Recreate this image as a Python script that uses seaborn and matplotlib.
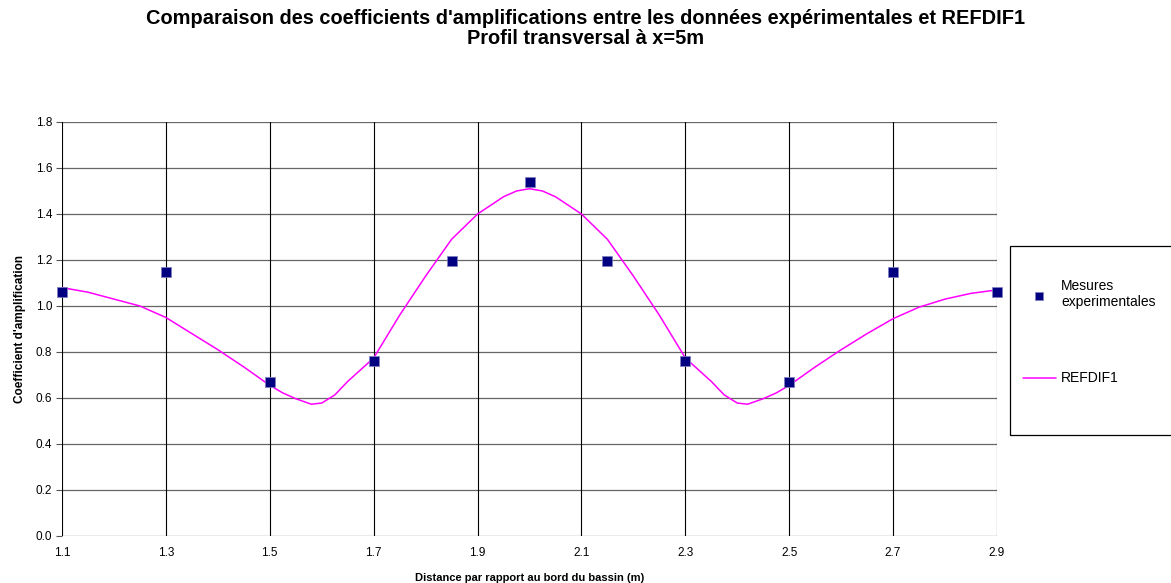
import matplotlib
matplotlib.use("Agg")
import matplotlib.pyplot as plt
from matplotlib.patches import Rectangle
import seaborn as sns
import pandas as pd

# Measured points (squares)
mes_x = [1.1, 1.3, 1.5, 1.7, 1.85, 2.0, 2.15, 2.3, 2.5, 2.7, 2.9]
mes_y = [1.06, 1.147, 0.67, 0.76, 1.196, 1.538, 1.196, 0.76, 0.67, 1.147, 1.06]

# REFDIF1 curve
ref_x = [1.10, 1.15, 1.20, 1.25, 1.30, 1.35, 1.40, 1.45, 1.50, 1.525, 1.55, 1.58, 1.60,
         1.625, 1.65, 1.70, 1.75, 1.80, 1.85, 1.90, 1.95, 1.975, 2.00, 2.025, 2.05, 2.10,
         2.15, 2.20, 2.25, 2.30, 2.35, 2.375, 2.40, 2.42, 2.45, 2.475, 2.50, 2.55, 2.60,
         2.65, 2.70, 2.75, 2.80, 2.85, 2.90]
ref_y = [1.08, 1.06, 1.03, 1.00, 0.95, 0.88, 0.81, 0.735, 0.655, 0.622, 0.597, 0.573, 0.578,
         0.613, 0.672, 0.774, 0.96, 1.13, 1.29, 1.40, 1.475, 1.50, 1.51, 1.50, 1.475, 1.40,
         1.29, 1.13, 0.96, 0.774, 0.672, 0.613, 0.578, 0.573, 0.597, 0.622, 0.655, 0.735, 0.81,
         0.88, 0.945, 0.995, 1.03, 1.055, 1.07]

x_ticks = [1.1, 1.3, 1.5, 1.7, 1.9, 2.1, 2.3, 2.5, 2.7, 2.9]
y_ticks = [0.0, 0.2, 0.4, 0.6, 0.8, 1.0, 1.2, 1.4, 1.6, 1.8]

title_lines = ["Comparaison des coefficients d'amplifications entre les données expérimentales et REFDIF1",
               "Profil transversal à x=5m"]
xlabel = "Distance par rapport au bord du bassin (m)"
ylabel = "Coefficient d'amplification"

sns.set_theme(style="white")
plt.rcParams['font.family'] = ['Liberation Sans', 'DejaVu Sans']
plt.rcParams.update({'text.color': 'black', 'axes.labelcolor': 'black',
                     'xtick.color': 'black', 'ytick.color': 'black'})

fig = plt.figure(figsize=(11.71, 5.83), dpi=100)
ax = fig.add_axes([62/1171, 47/583, (997-62)/1171, (536-122)/583])

df_ref = pd.DataFrame({"x": ref_x, "y": ref_y})
df_mes = pd.DataFrame({"x": mes_x, "y": mes_y})

sns.lineplot(data=df_ref, x="x", y="y", ax=ax, color="#FF00FF", linewidth=1.1,
             label="REFDIF1", zorder=3, sort=False)
sns.scatterplot(data=df_mes, x="x", y="y", ax=ax, marker="s", s=42, color="#000080",
                edgecolor="#8080C0", linewidth=0.5, label="Mesures\nexperimentales",
                zorder=4, clip_on=False)

ax.set_xlim(1.1, 2.9)
ax.set_ylim(0, 1.8)
ax.set_xticks(x_ticks)
ax.set_yticks(y_ticks)
ax.set_xticklabels([f"{v:.1f}" for v in x_ticks], fontsize=8.5)
ax.set_yticklabels([f"{v:.1f}" for v in y_ticks], fontsize=8.5)
ax.tick_params(axis='y', which='major', direction='out', length=4, width=0.8,
               color='#555555', left=True, pad=3)
ax.tick_params(axis='x', which='major', length=0, pad=8)

for v in y_ticks:
    ax.axhline(v, color="#666666", linewidth=0.9, zorder=1)
for v in x_ticks:
    ax.axvline(v, color="#000000", linewidth=0.8, zorder=1)

for s in ax.spines.values():
    s.set_visible(False)

ax.set_xlabel(xlabel, fontsize=8, fontweight='bold', labelpad=10)
ax.set_ylabel(ylabel, fontsize=8.5, fontweight='bold', labelpad=7)

fig.text(0.5, 1 - 19/583, title_lines[0], ha='center', va='center', fontsize=14.4,
         fontweight='bold', color='black')
fig.text(0.5, 1 - 39/583, title_lines[1], ha='center', va='center', fontsize=14.4,
         fontweight='bold', color='black')

ax.get_legend().remove()
h, l = ax.get_legend_handles_labels()
order = [1, 0]
leg = fig.legend([h[i] for i in order], [l[i] for i in order],
                 loc='upper left', bbox_to_anchor=(1020/1171, 1 - 276/583),
                 borderaxespad=0, frameon=False, fontsize=10,
                 labelspacing=4.5, handlelength=2.4, handletextpad=0.35,
                 borderpad=0.2, markerscale=0.8)
for t in leg.get_texts():
    t.set_color('black')
fig.patches.append(Rectangle((1010/1171, 1 - 435/583), 170/1171, (435-246)/583,
                             transform=fig.transFigure, fill=False,
                             edgecolor='black', linewidth=0.9))

fig.savefig("out.png", dpi=100, facecolor='white')
